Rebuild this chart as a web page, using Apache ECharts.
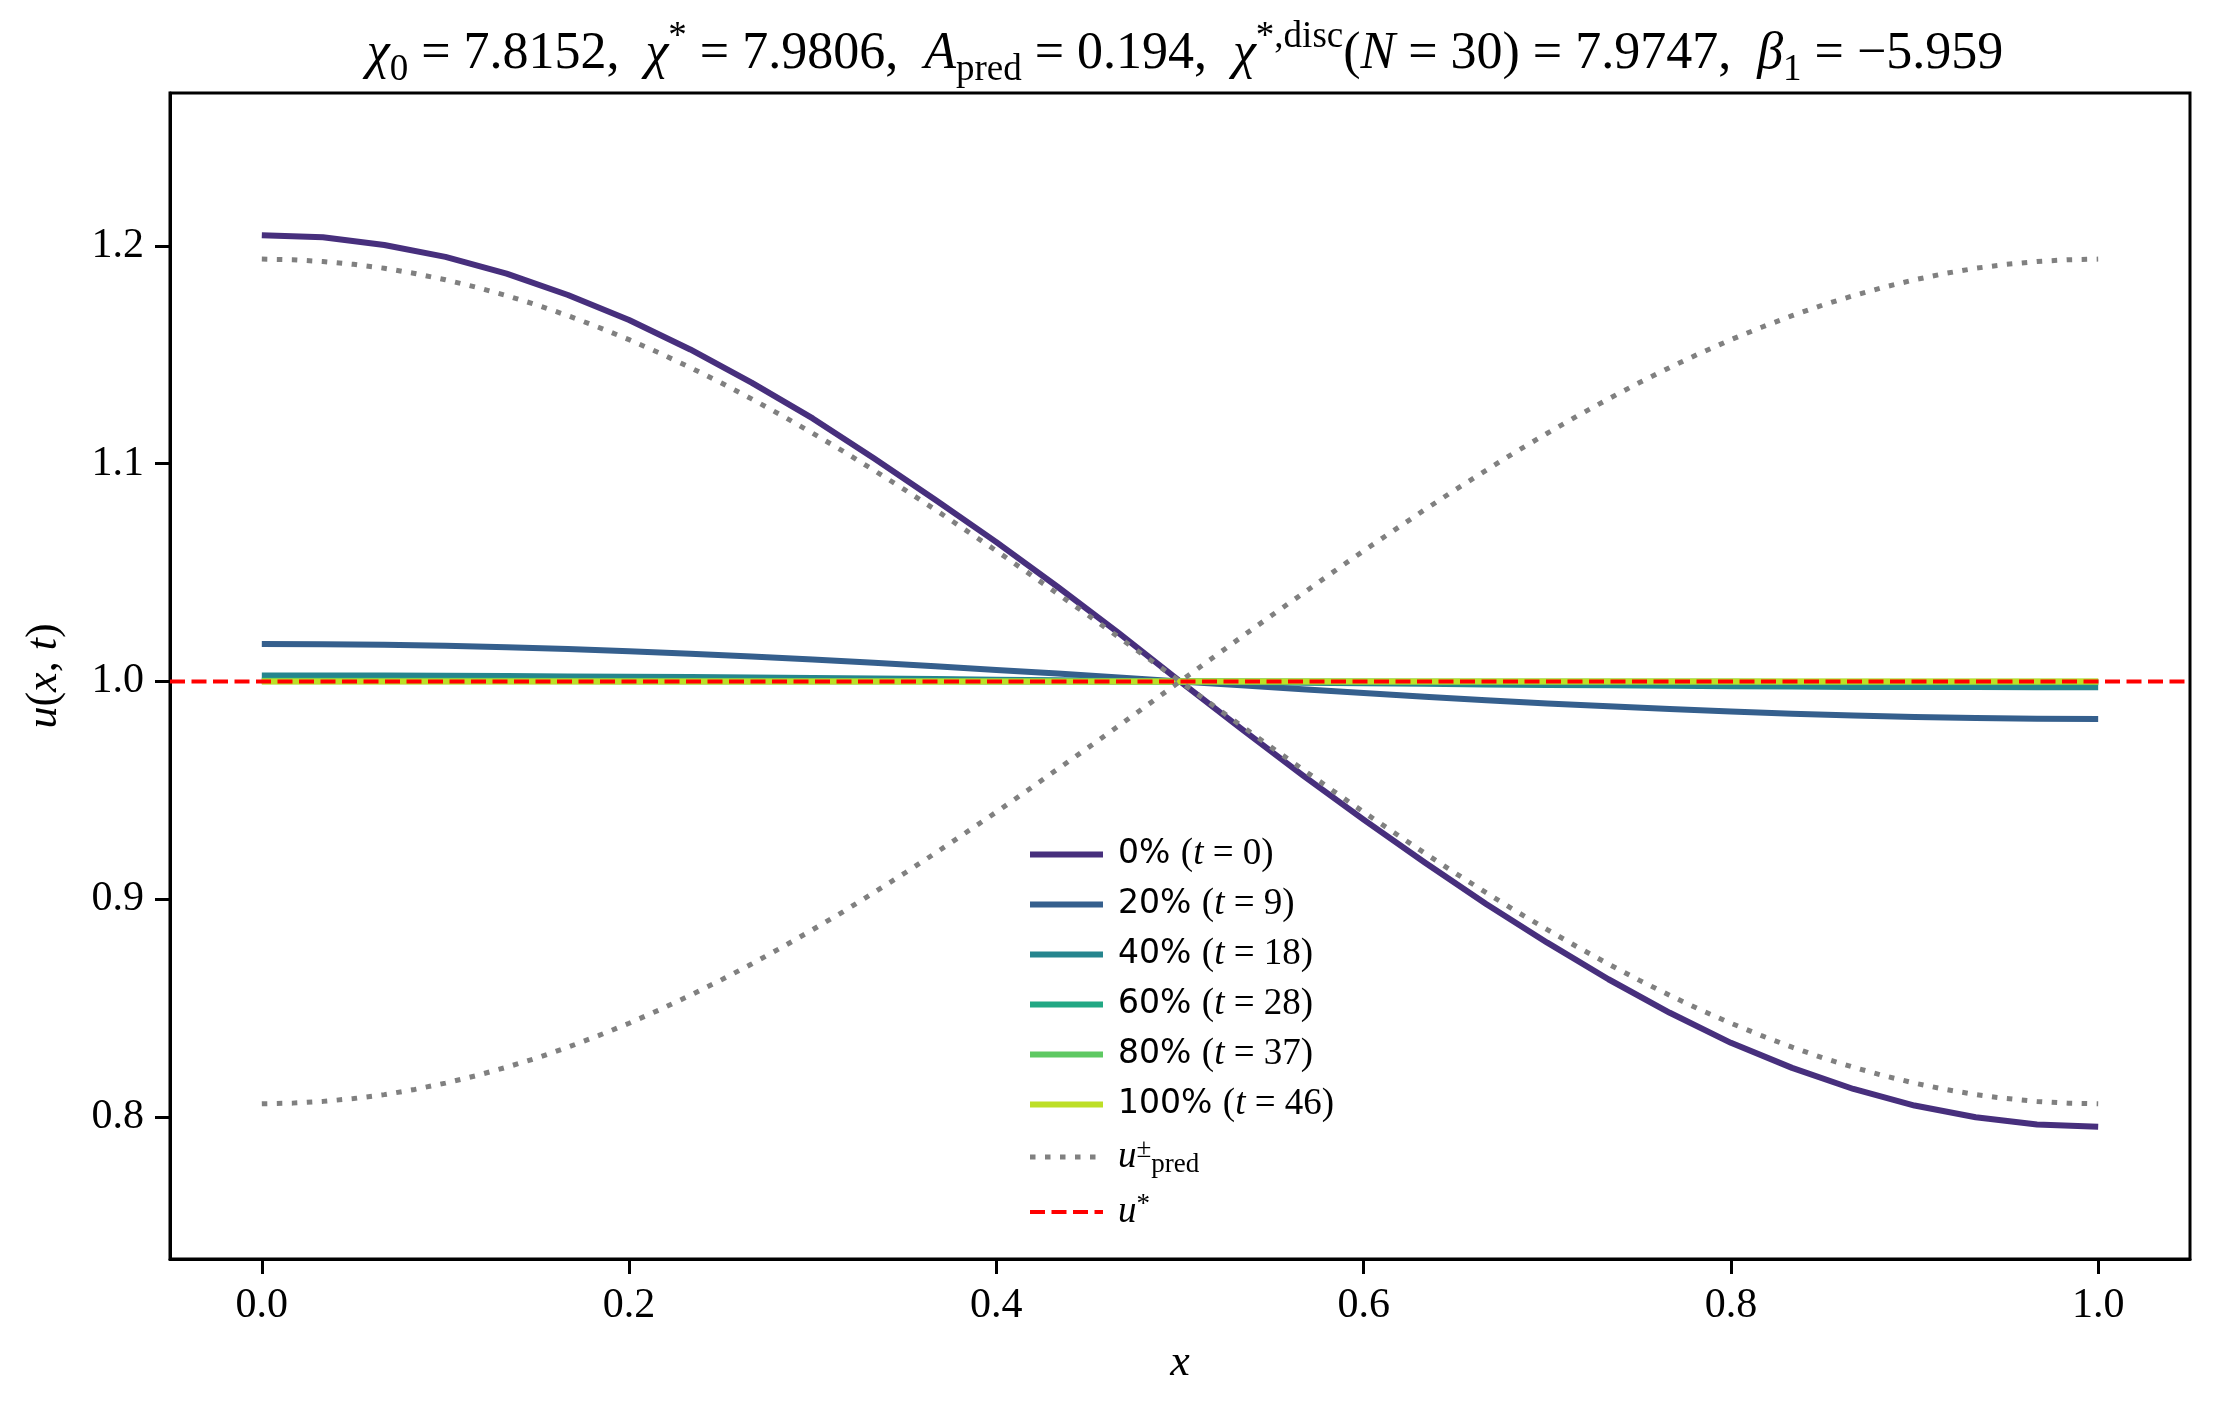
<!DOCTYPE html>
<html><head><meta charset="utf-8">
<script src="https://cdn.jsdelivr.net/npm/echarts@6/dist/echarts.min.js"></script>
<style>html,body{margin:0;padding:0;background:#fff}#c{width:2220px;height:1409px}</style>
</head><body><div id="c"></div>
<script>
// ---- data ----
const xGrid = [0, 0.0333, 0.0667, 0.1, 0.1333, 0.1667, 0.2, 0.2333, 0.2667, 0.3, 0.3333, 0.3667, 0.4, 0.4333, 0.4667, 0.5,
  0.5333, 0.5667, 0.6, 0.6333, 0.6667, 0.7, 0.7333, 0.7667, 0.8, 0.8333, 0.8667, 0.9, 0.9333, 0.9667, 1];
const xFine = [0, 0.0167, 0.0333, 0.05, 0.0667, 0.0833, 0.1, 0.1167, 0.1333, 0.15, 0.1667, 0.1833, 0.2, 0.2167, 0.2333, 0.25,
  0.2667, 0.2833, 0.3, 0.3167, 0.3333, 0.35, 0.3667, 0.3833, 0.4, 0.4167, 0.4333, 0.45, 0.4667, 0.4833, 0.5,
  0.5167, 0.5333, 0.55, 0.5667, 0.5833, 0.6, 0.6167, 0.6333, 0.65, 0.6667, 0.6833, 0.7, 0.7167, 0.7333, 0.75,
  0.7667, 0.7833, 0.8, 0.8167, 0.8333, 0.85, 0.8667, 0.8833, 0.9, 0.9167, 0.9333, 0.95, 0.9667, 0.9833, 1];
const profile0 = [1.2050, 1.2040, 1.2005, 1.1950, 1.1873, 1.1775, 1.1660, 1.1525, 1.1373, 1.1208, 1.1025, 1.0835, 1.0640, 1.0435, 1.0222, 1.0000,
  0.9783, 0.9570, 0.9365, 0.9168, 0.8978, 0.8800, 0.8632, 0.8478, 0.8340, 0.8225, 0.8128, 0.8052, 0.7998, 0.7965, 0.7955];
const profile20 = [1.0172, 1.0171, 1.0169, 1.0164, 1.0157, 1.0149, 1.0139, 1.0127, 1.0115, 1.0101, 1.0086, 1.0070, 1.0053, 1.0036, 1.0018, 1.0000,
  0.9982, 0.9964, 0.9947, 0.9930, 0.9914, 0.9899, 0.9886, 0.9873, 0.9862, 0.9852, 0.9844, 0.9837, 0.9832, 0.9829, 0.9828];
const profile40 = [1.0027, 1.0027, 1.0027, 1.0026, 1.0025, 1.0023, 1.0022, 1.0020, 1.0018, 1.0016, 1.0014, 1.0011, 1.0008, 1.0006, 1.0003, 1.0000,
  0.9997, 0.9994, 0.9992, 0.9989, 0.9986, 0.9984, 0.9982, 0.9980, 0.9978, 0.9977, 0.9975, 0.9974, 0.9974, 0.9973, 0.9973];
const profile60 = [1.0004, 1.0004, 1.0004, 1.0004, 1.0004, 1.0003, 1.0003, 1.0003, 1.0003, 1.0002, 1.0002, 1.0002, 1.0001, 1.0001, 1.0000, 1.0000,
  1.0000, 0.9999, 0.9999, 0.9998, 0.9998, 0.9998, 0.9997, 0.9997, 0.9997, 0.9997, 0.9996, 0.9996, 0.9996, 0.9996, 0.9996];
const profile80 = [1.0001, 1.0001, 1.0001, 1.0001, 1.0001, 1.0001, 1.0000, 1.0000, 1.0000, 1.0000, 1.0000, 1.0000, 1.0000, 1.0000, 1.0000, 1.0000,
  1.0000, 1.0000, 1.0000, 1.0000, 1.0000, 1.0000, 1.0000, 1.0000, 1.0000, 0.9999, 0.9999, 0.9999, 0.9999, 0.9999, 0.9999];
const profile100 = [1.0000, 1.0000, 1.0000, 1.0000, 1.0000, 1.0000, 1.0000, 1.0000, 1.0000, 1.0000, 1.0000, 1.0000, 1.0000, 1.0000, 1.0000, 1.0000,
  1.0000, 1.0000, 1.0000, 1.0000, 1.0000, 1.0000, 1.0000, 1.0000, 1.0000, 1.0000, 1.0000, 1.0000, 1.0000, 1.0000, 1.0000];
const uPredPlus = [1.1940, 1.1937, 1.1929, 1.1916, 1.1898, 1.1874, 1.1845, 1.1811, 1.1772, 1.1729, 1.1680, 1.1627, 1.1570, 1.1508, 1.1442, 1.1372,
  1.1298, 1.1221, 1.1140, 1.1057, 1.0970, 1.0881, 1.0789, 1.0695, 1.0600, 1.0502, 1.0403, 1.0304, 1.0203, 1.0102, 1.0000,
  0.9898, 0.9797, 0.9696, 0.9597, 0.9498, 0.9400, 0.9305, 0.9211, 0.9119, 0.9030, 0.8943, 0.8860, 0.8779, 0.8702, 0.8628,
  0.8558, 0.8492, 0.8430, 0.8373, 0.8320, 0.8271, 0.8228, 0.8189, 0.8155, 0.8126, 0.8102, 0.8084, 0.8071, 0.8063, 0.8060];
const uPredMinus = [0.8060, 0.8063, 0.8071, 0.8084, 0.8102, 0.8126, 0.8155, 0.8189, 0.8228, 0.8271, 0.8320, 0.8373, 0.8430, 0.8492, 0.8558, 0.8628,
  0.8702, 0.8779, 0.8860, 0.8943, 0.9030, 0.9119, 0.9211, 0.9305, 0.9400, 0.9498, 0.9597, 0.9696, 0.9797, 0.9898, 1.0000,
  1.0102, 1.0203, 1.0304, 1.0403, 1.0502, 1.0600, 1.0695, 1.0789, 1.0881, 1.0970, 1.1057, 1.1140, 1.1221, 1.1298, 1.1372,
  1.1442, 1.1508, 1.1570, 1.1627, 1.1680, 1.1729, 1.1772, 1.1811, 1.1845, 1.1874, 1.1898, 1.1916, 1.1929, 1.1937, 1.1940];
const uStar = 1.0;
const xLimits = [-0.05, 1.05];
const yLimits = [0.7347, 1.2703];
const xTicks = [0, 0.2, 0.4, 0.6, 0.8, 1.0];
const yTicks = [0.8, 0.9, 1.0, 1.1, 1.2];
const percentLabels = ['0%', '20%', '40%', '60%', '80%', '100%'];
const tValues = [0, 9, 18, 28, 37, 46];

// ---- styling ----
const profiles = [profile0, profile20, profile40, profile60, profile80, profile100];
const profileColors = ['#472f7d', '#355f8d', '#25858e', '#22a884', '#5ec962', '#bddf26'];
const SERIF = '"Liberation Serif", "DejaVu Serif", serif';
const SANS = '"DejaVu Sans", sans-serif';
const predStyle = { color: '#808080', width: 5, type: [5.5, 9.5], cap: 'butt' };
const starStyle = { color: '#ff0000', width: 4, type: [15, 6.5], cap: 'butt' };

const series = [];
profiles.forEach((vals, i) => {
  series.push({
    type: 'line', name: percentLabels[i], z: 2,
    data: xGrid.map((x, j) => [x, vals[j]]),
    showSymbol: false, symbol: 'none', animation: false,
    lineStyle: { color: profileColors[i], width: 6, cap: 'butt', join: 'round' },
    itemStyle: { color: profileColors[i] }
  });
});
[uPredPlus, uPredMinus].forEach(vals => {
  series.push({
    type: 'line', name: 'u_pred', z: 3,
    data: xFine.map((x, j) => [x, vals[j]]),
    showSymbol: false, symbol: 'none', animation: false,
    lineStyle: predStyle,
    itemStyle: { color: '#808080' }
  });
});
series.push({
  type: 'line', name: 'u*', z: 4,
  data: xLimits.map(x => [x, uStar]),
  showSymbol: false, symbol: 'none', animation: false,
  lineStyle: starStyle,
  itemStyle: { color: '#ff0000' }
});

const legendText = {};
percentLabels.forEach((p, i) => {
  legendText[p] = `{s|${p} }{r|(}{i|t}{r| = ${tValues[i]})}`;
});
legendText['u_pred'] = '{i|u}{sup|±}{sub|pred}';
legendText['u*'] = '{i|u}{sup|*}';

const legendData = percentLabels.map((p, i) => ({
  name: p, itemStyle: { opacity: 0 },
  lineStyle: { color: profileColors[i], width: 6, type: 'solid', cap: 'butt' }
})).concat([
  { name: 'u_pred', itemStyle: { opacity: 0 }, lineStyle: predStyle },
  { name: 'u*', itemStyle: { opacity: 0 }, lineStyle: starStyle }
]);

const W = 'normal';
const chart = echarts.init(document.getElementById('c'), null, { renderer: 'canvas' });
chart.setOption({
  backgroundColor: '#ffffff',
  animation: false,
  title: {
    left: 1180, top: 14, textAlign: 'center',
    text: '{i|χ}{sub|0}{t| = 7.8152,  }{i|χ}{sup|*}{t| = 7.9806,  }{i|A}{sub|pred}{t| = 0.194,  }{i|χ}{sup|*,disc}{t|(}{i|N}{t| = 30) = 7.9747,  }{i|β}{sub|1}{t| = −5.959}',
    textStyle: {
      fontWeight: W,
      rich: {
        t: { fontFamily: SERIF, fontWeight: W, fontSize: 52, lineHeight: 70, color: '#000' },
        i: { fontFamily: SERIF, fontWeight: W, fontStyle: 'italic', fontSize: 52, lineHeight: 70, color: '#000' },
        sub: { fontFamily: SERIF, fontWeight: W, fontSize: 37, lineHeight: 40, verticalAlign: 'bottom', color: '#000' },
        sup: { fontFamily: SERIF, fontWeight: W, fontSize: 37, lineHeight: 40, verticalAlign: 'top', color: '#000' }
      }
    }
  },
  grid: { left: 170, right: 30, top: 93, bottom: 150, show: true, borderColor: '#000', borderWidth: 3, backgroundColor: 'transparent' },
  legend: {
    orient: 'vertical', left: 1022, top: 831,
    itemWidth: 73, itemHeight: 14, itemGap: 13,
    data: legendData,
    formatter: name => legendText[name],
    textStyle: {
      padding: [0, 0, 0, 10],
      rich: {
        s: { fontFamily: SANS, fontSize: 33, lineHeight: 42, color: '#000' },
        r: { fontFamily: SERIF, fontSize: 37, lineHeight: 42, color: '#000' },
        i: { fontFamily: SERIF, fontStyle: 'italic', fontSize: 37, lineHeight: 42, color: '#000' },
        sub: { fontFamily: SERIF, fontSize: 27, lineHeight: 30, verticalAlign: 'bottom', color: '#000' },
        sup: { fontFamily: SERIF, fontSize: 27, lineHeight: 30, verticalAlign: 'top', color: '#000' }
      }
    }
  },
  xAxis: {
    type: 'value', min: xLimits[0], max: xLimits[1],
    name: 'x', nameLocation: 'middle', nameGap: 82,
    nameTextStyle: { fontFamily: SERIF, fontStyle: 'italic', fontSize: 44, color: '#000' },
    axisLine: { show: true, onZero: false, lineStyle: { color: '#000', width: 3 } },
    axisTick: { show: true, inside: false, length: 15, lineStyle: { color: '#000', width: 3 }, customValues: xTicks },
    axisLabel: { show: true, margin: 26, fontFamily: SERIF, fontSize: 42, color: '#000', customValues: xTicks, formatter: v => v.toFixed(1) },
    splitLine: { show: false }
  },
  yAxis: {
    type: 'value', min: yLimits[0], max: yLimits[1],
    name: '{i|u}{t|(}{i|x}{t|, }{i|t}{t|)}', nameLocation: 'middle', nameGap: 104, nameRotate: 90,
    nameTextStyle: {
      rich: {
        t: { fontFamily: SERIF, fontSize: 44, color: '#000' },
        i: { fontFamily: SERIF, fontStyle: 'italic', fontSize: 44, color: '#000' }
      }
    },
    axisLine: { show: true, onZero: false, lineStyle: { color: '#000', width: 3 } },
    axisTick: { show: true, inside: false, length: 15, lineStyle: { color: '#000', width: 3 }, customValues: yTicks },
    axisLabel: { show: true, margin: 26, fontFamily: SERIF, fontSize: 42, color: '#000', customValues: yTicks, formatter: v => v.toFixed(1) },
    splitLine: { show: false }
  },
  series: series
});
</script>
</body></html>
